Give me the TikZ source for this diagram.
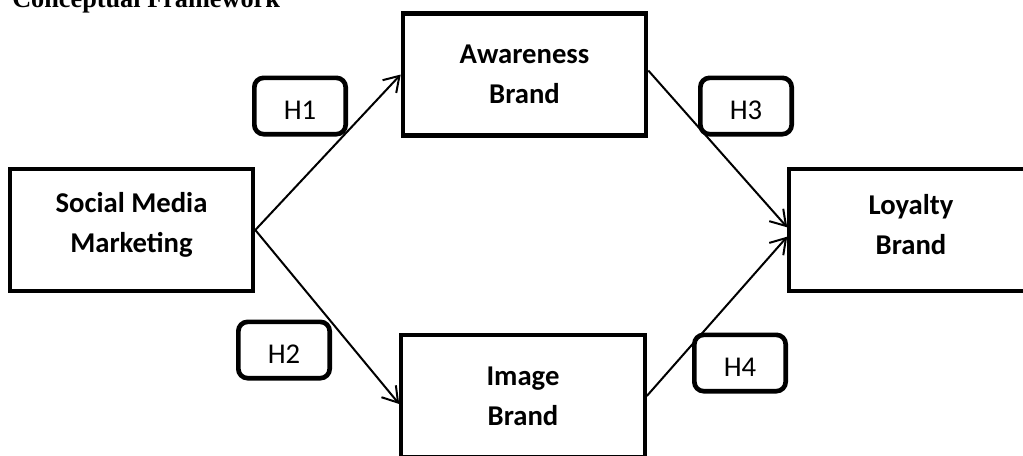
\documentclass[tikz,border=0pt]{standalone}
\usepackage{fontspec}
\setmainfont{Carlito}
\newfontfamily\titlefont{Liberation Serif}
\usetikzlibrary{arrows.meta}
\begin{document}
\begin{tikzpicture}[x=0.75pt,y=-0.75pt,
  mainbox/.style={draw, line width=3.2pt, minimum width=182.5pt, minimum height=91.5pt, inner sep=0pt},
  boxtext/.style={align=center, font=\bfseries\fontsize{21.5}{30}\selectfont, inner sep=0pt},
  hbox/.style={draw, line width=3.5pt, rounded corners=7pt, minimum width=68.5pt, minimum height=42.25pt, inner sep=0pt, font=\fontsize{21.5}{25}\selectfont, text height=20pt, text depth=0pt},
  link/.style={line width=1.5pt, -{Straight Barb[length=11pt,width=14pt]}}
]
\useasboundingbox (0,0) rectangle (1023,455);
\node[anchor=base west, inner sep=0pt, font=\titlefont\bfseries\fontsize{19.7}{24}\selectfont] (title) at (12,7) {Conceptual Framework};

\node[mainbox] (aw) at (524.5,74.5) {};
\node[mainbox] (smm) at (131.5,230) {};
\node[mainbox] (loy) at (911,230) {};
\node[mainbox] (img) at (523,396) {};

\node[boxtext] (awt) at (aw.center) {Awareness\\Brand};
\node[boxtext] (smmt) at ([yshift=4pt]smm.center) {Social Media\\Marketing};
\node[boxtext] (loyt) at ([yshift=4pt]loy.center) {Loyalty\\Brand};
\node[boxtext] (imgt) at (img.center) {Image\\Brand};

\node[hbox] (h1) at (300,106) {H1};
\node[hbox] (h3) at (746,106) {H3};
\node[hbox] (h2) at (284,350) {H2};
\node[hbox] (h4) at (740,363) {H4};

\draw[link] (smm.east) -- (aw.west);
\draw[link] (smm.east) -- ([yshift=-6pt]img.west);
\draw[link] ([yshift=3pt]aw.east) -- ([yshift=2pt]loy.west);
\draw[link] (img.east) -- ([yshift=-5pt]loy.west);
\end{tikzpicture}
\end{document}
